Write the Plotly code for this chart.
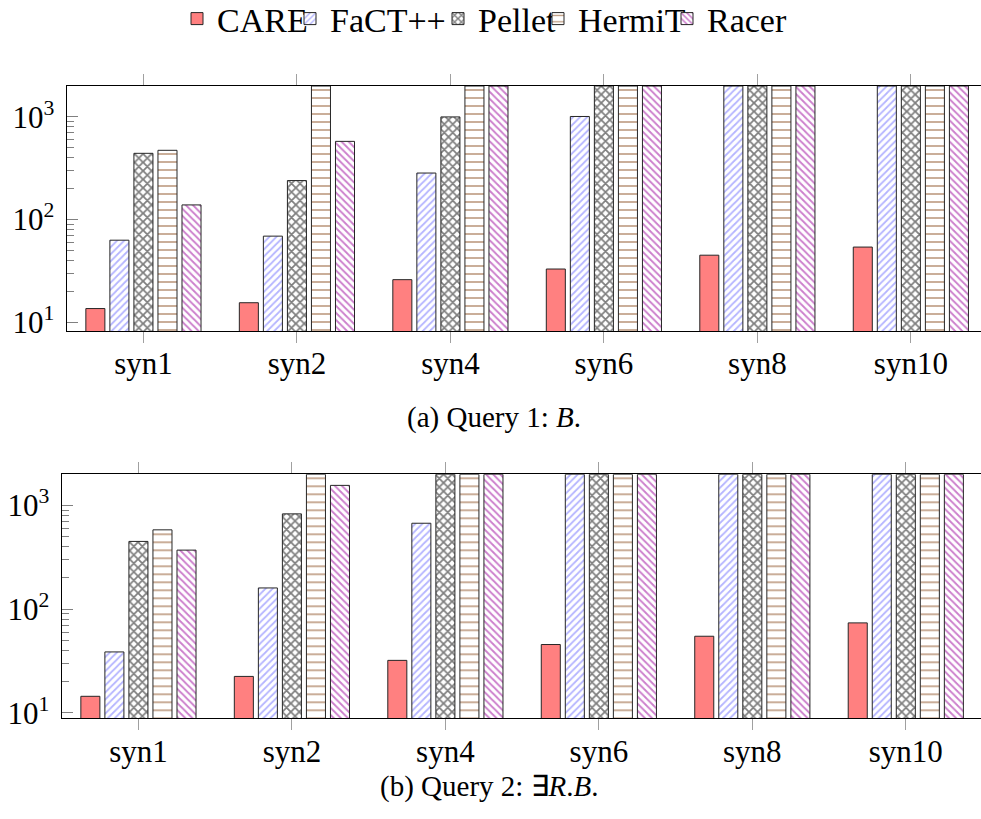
import plotly.graph_objects as go

# ---------------- data ----------------
categories = ["syn1", "syn2", "syn4", "syn6", "syn8", "syn10"]
reasoners = ["CARE", "FaCT++", "Pellet", "HermiT", "Racer"]

q1_care = [13.6, 15.5, 26, 33, 45, 54]
q1_fact = [63, 69, 284, 1010, 2000, 2000]
q1_pellet = [442, 240, 1000, 2000, 2000, 2000]
q1_hermit = [473, 2000, 2000, 2000, 2000, 2000]
q1_racer = [139, 578, 2000, 2000, 2000, 2000]

q2_care = [14.4, 22.4, 32, 45.5, 54.7, 73.6]
q2_fact = [38.6, 160, 674, 2000, 2000, 2000]
q2_pellet = [450, 830, 2000, 2000, 2000, 2000]
q2_hermit = [582, 2000, 2000, 2000, 2000, 2000]
q2_racer = [371, 1563, 2000, 2000, 2000, 2000]

major_ticks = [10, 100, 1000]
major_text = ["10<sup>1</sup>", "10<sup>2</sup>", "10<sup>3</sup>"]
minor_ticks = [20, 30, 40, 50, 60, 70, 80, 90, 200, 300, 400, 500, 600, 700, 800, 900]

q1 = [q1_care, q1_fact, q1_pellet, q1_hermit, q1_racer]
q2 = [q2_care, q2_fact, q2_pellet, q2_hermit, q2_racer]

# ---------------- styles ----------------
FONT = "Liberation Serif"
W, H = 981, 819
styles = [
    dict(color="#FF8080", pattern=None),
    dict(color="white", pattern=dict(shape="/", fgcolor="#6A6AFF", bgcolor="white", size=5, solidity=0.35, fillmode="overlay")),
    dict(color="white", pattern=dict(shape="x", fgcolor="black", bgcolor="white", size=6, solidity=0.5, fillmode="overlay")),
    dict(color="white", pattern=dict(shape="-", fgcolor="#7A3300", bgcolor="white", size=8, solidity=0.2, fillmode="overlay")),
    dict(color="white", pattern=dict(shape="\\", fgcolor="#990099", bgcolor="white", size=5, solidity=0.38, fillmode="overlay")),
]
legend_text_start = [219, 332, 480, 580, 709]
legend_names = ["legend", "legend2", "legend3", "legend4", "legend5"]

fig = go.Figure()
for row, (data, xa, ya) in enumerate([(q1, "x", "y"), (q2, "x2", "y2")]):
    for i, name in enumerate(reasoners):
        st = styles[i]
        marker = dict(color=st["color"], line=dict(color="#262626", width=1))
        if st["pattern"] is not None:
            marker["pattern"] = st["pattern"]
        fig.add_trace(go.Bar(
            x=categories, y=data[i], name=name, xaxis=xa, yaxis=ya,
            marker=marker, showlegend=(row == 0), legend=legend_names[i],
            offsetgroup=str(i),
        ))

tick_font = dict(family=FONT, size=31, color="black")

def xax(domain, rng, anchor):
    return dict(domain=domain, type="category", range=rng, anchor=anchor, ticks="outside", ticklen=11,
                tickwidth=1.3, tickcolor="#A0A0A0", showline=True, linecolor="black",
                linewidth=1.3, mirror="ticks", showgrid=False, zeroline=False,
                tickfont=tick_font, ticklabelstandoff=-6, fixedrange=True)

def yax(domain, rng, anchor):
    return dict(domain=domain, type="log", range=rng, tickmode="array", tickvals=major_ticks,
                ticktext=major_text, ticks="inside", ticklen=11, tickwidth=1.2,
                tickcolor="#808080", showline=True, linecolor="black", linewidth=1.3,
                showgrid=False, zeroline=False, tickfont=tick_font, anchor=anchor,
                ticklabelstandoff=5,
                minor=dict(tickmode="array", tickvals=minor_ticks, ticks="inside", ticklen=7,
                           tickwidth=1.1, tickcolor="#808080", showgrid=False))

def yright(domain, rng, over, anchor, mj, mn):
    return dict(domain=domain, type="log", range=rng, overlaying=over, side="right",
                anchor=anchor, tickmode="array", tickvals=major_ticks, ticks="inside",
                ticklen=mj, tickwidth=1.2, tickcolor="#808080", showticklabels=False,
                showline=False, showgrid=False, zeroline=False,
                minor=dict(tickmode="array", tickvals=minor_ticks, ticks="inside", ticklen=mn,
                           tickwidth=1.1, tickcolor="#808080", showgrid=False))

r1 = [0.915, 3.30103]
r2 = [0.946, 3.30103]
d1y = [(H - 331) / H, (H - 86) / H]
d2y = [(H - 718.3) / H, (H - 474.3) / H]

layout = dict(
    width=W, height=H, margin=dict(l=0, r=0, t=0, b=0, autoexpand=False),
    paper_bgcolor="white", plot_bgcolor="white",
    barmode="group", bargap=0.217, bargroupgap=0.208,
    font=dict(family=FONT, color="black"),
    xaxis=xax([66.7 / W, 1], [-0.5, 5.457], "y"),
    yaxis=yax(d1y, r1, "x"),
    xaxis2=xax([61.7 / W, 1], [-0.5, 5.49], "y2"),
    yaxis2=yax(d2y, r2, "x2"),
    yaxis3=yright(d1y, r1, "y", "x", 6, 4),
    yaxis4=yright(d2y, r2, "y2", "x2", 11, 6),
    annotations=[
        dict(text="(a) Query 1: <i>B</i>.", x=494 / W, y=(H - 418) / H, xref="paper", yref="paper",
             xanchor="center", yanchor="middle", showarrow=False, font=dict(family=FONT, size=29)),
        dict(text="(b) Query 2: ∃<i>R</i>.<i>B</i>.", x=489 / W, y=(H - 786) / H, xref="paper", yref="paper",
             xanchor="center", yanchor="middle", showarrow=False, font=dict(family=FONT, size=29)),
    ],
)
for i, ln in enumerate(legend_names):
    layout[ln] = dict(x=(legend_text_start[i] - 42) / W, y=1 + 10 / H, xanchor="left", yanchor="top",
                      orientation="h", bgcolor="rgba(0,0,0,0)", itemwidth=30,
                      font=dict(family=FONT, size=34, color="black"))
fig.update_layout(**layout)
fig.write_html("out.html")
